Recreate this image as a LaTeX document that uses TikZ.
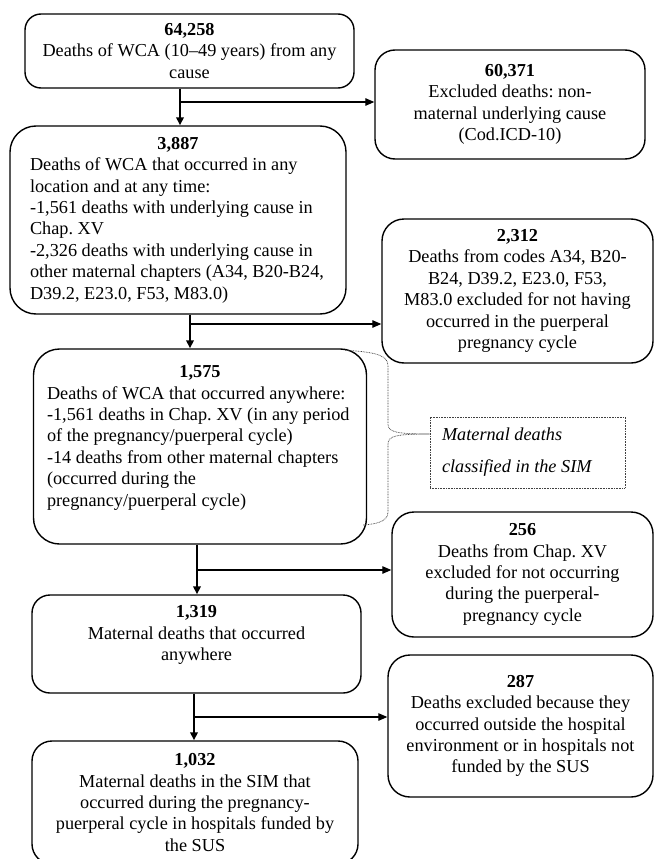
\documentclass[tikz,border=0pt]{standalone}
\usepackage{fontspec}
\setmainfont{Liberation Serif}
\usetikzlibrary{arrows.meta}
\begin{document}
\begin{tikzpicture}[x=1pt,y=-1pt,
  box/.style={draw, line width=1.4pt, inner sep=0pt, font=\fontsize{18.25}{21.4}\selectfont\frenchspacing},
  ctr/.style={box, align=center},
  lft/.style={box, align=left},
  arr/.style={line width=1.7pt, -{Triangle[length=8pt,width=7.5pt]}},
  harr/.style={line width=1.2pt, -{Triangle[length=9pt,width=7.5pt]}},
  note/.style={draw=black!75, line width=0.7pt, dash pattern=on 0.8pt off 0.8pt},
]
\useasboundingbox (0,0) rectangle (654,859);

\node[ctr, rounded corners=16pt, minimum width=329pt, minimum height=74pt] (A) at (189.5,51)
  {\textbf{64,258}\\Deaths of WCA (10--49 years) from any\\cause};

\node[ctr, rounded corners=20pt, minimum width=270pt, minimum height=109pt] (B) at (510,104.5)
  {\textbf{60,371}\\Excluded deaths: non-\\maternal underlying cause\\(Cod.ICD-10)};

\node[lft, rounded corners=26pt, minimum width=336pt, minimum height=188pt] (C) at (178,220)
  {\makebox[296pt]{\textbf{3,887}}\\Deaths of WCA that occurred in any\\location and at any time:\\-1,561 deaths with underlying cause in\\Chap. XV\\-2,326 deaths with underlying cause in\\other maternal chapters (A34, B20-B24,\\D39.2, E23.0, F53, M83.0)};

\node[ctr, rounded corners=22pt, minimum width=271pt, minimum height=144pt] (D) at (517.5,291)
  {\textbf{2,312}\\Deaths from codes A34, B20-\\B24, D39.2, E23.0, F53,\\M83.0 excluded for not having\\occurred in the puerperal\\pregnancy cycle};

\node[lft, rounded corners=26pt, minimum width=333pt, minimum height=195pt] (E) at (200,446.5)
  {\makebox[306pt]{\textbf{1,575}}\\Deaths of WCA that occurred anywhere:\\-1,561 deaths in Chap. XV (in any period\\of the pregnancy/puerperal cycle)\\-14 deaths from other maternal chapters\\(occurred during the\\pregnancy/puerperal cycle)\\\mbox{}};

\node[note, align=flush left, text width=171pt, inner xsep=12pt, inner ysep=0pt, minimum width=195pt, minimum height=71pt,
  font=\itshape\fontsize{18.25}{32}\selectfont] (S) at (527.5,452.5)
  {Maternal deaths\\classified in the SIM};

\node[ctr, rounded corners=22pt, minimum width=261pt, minimum height=125pt] (F) at (522.5,574.5)
  {\textbf{256}\\Deaths from Chap. XV\\excluded for not occurring\\during the puerperal-\\pregnancy cycle};

\node[ctr, rounded corners=18pt, minimum width=329pt, minimum height=98pt] (G) at (196.5,644)
  {\textbf{1,319}\\Maternal deaths that occurred\\anywhere\\\mbox{}};

\node[ctr, rounded corners=22pt, minimum width=265pt, minimum height=142pt] (H) at (520.5,726)
  {\textbf{287}\\Deaths excluded because they\\occurred outside the hospital\\environment or in hospitals not\\funded by the SUS};

\node[ctr, rounded corners=20pt, minimum width=326pt, minimum height=123pt] (I) at (195,802.5)
  {\textbf{1,032}\\Maternal deaths in the SIM that\\occurred during the pregnancy-\\puerperal cycle in hospitals funded by\\the SUS};

% connectors
\coordinate (j1) at (180,102);
\draw[arr] (A.south -| j1) -- (C.north -| j1);
\draw[harr] (j1) -- (j1 -| B.west);

\coordinate (j2) at (190,324);
\draw[arr] (C.south -| j2) -- (E.north -| j2);
\draw[harr] (j2) -- (j2 -| D.west);

\coordinate (j3) at (197,570);
\draw[arr] (E.south -| j3) -- (G.north -| j3);
\draw[harr] (j3) -- (j3 -| F.west);

\coordinate (j4) at (194,717);
\draw[arr] (G.south -| j4) -- (I.north -| j4);
\draw[harr] (j4) -- (j4 -| H.west);

% dotted brace
\coordinate (tip) at (S.west |- 0,434);
\draw[note] ([xshift=-22pt,yshift=-2pt]E.north east) .. controls (378,352) and (388,356) .. (388,366)
  -- (388,424) .. controls (388,432) and (396,434) .. (tip)
  .. controls (396,434) and (388,436) .. (388,444)
  -- (388,512) .. controls (388,521) and (378,524) .. (363,525);
\end{tikzpicture}
\end{document}
